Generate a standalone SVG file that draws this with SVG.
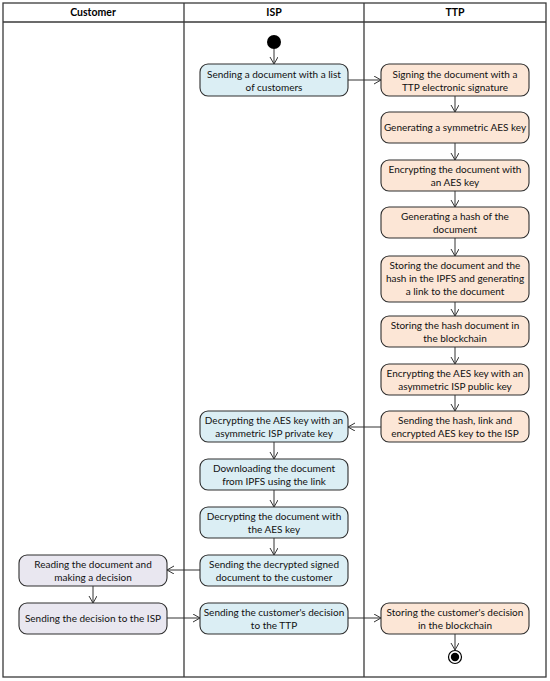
<svg xmlns="http://www.w3.org/2000/svg" width="550" height="681" viewBox="0 0 550 681">
<style>
.frame{fill:none;stroke:#3a3a3a;stroke-width:1.3}
.hdr{font-family:Lato,"Liberation Sans",sans-serif;font-size:10.5px;font-weight:bold;fill:#000;text-anchor:middle}
.n rect{stroke:#2e2e2e;stroke-width:1.1}
.n text{font-family:Lato,"Liberation Sans",sans-serif;font-size:10px;fill:#111;text-anchor:middle}
.isp rect{fill:#dbeef4}
.ttp rect{fill:#fce6d6}
.cus rect{fill:#e9e7f0}
.c line{stroke:#333;stroke-width:1;marker-end:url(#ah)}
</style>
<defs>
<marker id="ah" markerUnits="userSpaceOnUse" markerWidth="10" markerHeight="10" refX="7" refY="4" orient="auto">
<path d="M0,0 L7,4 L0,8" fill="none" stroke="#333" stroke-width="1"/>
</marker>
</defs>
<rect x="0" y="0" width="550" height="681" fill="#fff"/>
<g id="lanes">
<rect class="frame" x="3" y="3" width="543" height="674"/>
<line class="frame" x1="3" y1="22" x2="546" y2="22"/>
<line class="frame" x1="184" y1="3" x2="184" y2="677"/>
<line class="frame" x1="364" y1="3" x2="364" y2="677"/>
<text class="hdr" x="93" y="16">Customer</text>
<text class="hdr" x="274" y="16">ISP</text>
<text class="hdr" x="455" y="16">TTP</text>
</g>
<g id="start"><circle cx="274" cy="42" r="7" fill="#000"/></g>
<g id="isp1" class="n isp"><rect x="200" y="64" width="148" height="32" rx="8"/><text x="274" y="77.5">Sending a document with a list</text><text x="274" y="90.5">of customers</text></g>
<g id="ttp1" class="n ttp"><rect x="381" y="64" width="148" height="32" rx="8"/><text x="455" y="77.5">Signing the document with a</text><text x="455" y="90.5">TTP electronic signature</text></g>
<g id="ttp2" class="n ttp"><rect x="381" y="112" width="148" height="31" rx="8"/><text x="455" y="131">Generating a symmetric AES key</text></g>
<g id="ttp3" class="n ttp"><rect x="381" y="160" width="148" height="31" rx="8"/><text x="455" y="173">Encrypting the document with</text><text x="455" y="186">an AES key</text></g>
<g id="ttp4" class="n ttp"><rect x="381" y="207" width="148" height="31" rx="8"/><text x="455" y="220">Generating a hash of the</text><text x="455" y="233">document</text></g>
<g id="ttp5" class="n ttp"><rect x="381" y="256" width="148" height="46" rx="8"/><text x="455" y="269">Storing the document and the</text><text x="455" y="282">hash in the IPFS and generating</text><text x="455" y="295">a link to the document</text></g>
<g id="ttp6" class="n ttp"><rect x="381" y="316" width="148" height="31" rx="8"/><text x="455" y="329">Storing the hash document in</text><text x="455" y="342">the blockchain</text></g>
<g id="ttp7" class="n ttp"><rect x="381" y="364" width="148" height="31" rx="8"/><text x="455" y="377">Encrypting the AES key with an</text><text x="455" y="390">asymmetric ISP public key</text></g>
<g id="ttp8" class="n ttp"><rect x="381" y="411" width="148" height="31" rx="8"/><text x="455" y="424">Sending the hash, link and</text><text x="455" y="437">encrypted AES key to the ISP</text></g>
<g id="isp2" class="n isp"><rect x="200" y="411" width="148" height="31" rx="8"/><text x="274" y="424">Decrypting the AES key with an</text><text x="274" y="437">asymmetric ISP private key</text></g>
<g id="isp3" class="n isp"><rect x="200" y="459" width="148" height="31" rx="8"/><text x="274" y="472">Downloading the document</text><text x="274" y="485">from IPFS using the link</text></g>
<g id="isp4" class="n isp"><rect x="200" y="507" width="148" height="31" rx="8"/><text x="274" y="520">Decrypting the document with</text><text x="274" y="533">the AES key</text></g>
<g id="isp5" class="n isp"><rect x="200" y="555" width="148" height="31" rx="8"/><text x="274" y="568">Sending the decrypted signed</text><text x="274" y="581">document to the customer</text></g>
<g id="cus1" class="n cus"><rect x="19" y="555" width="148" height="31" rx="8"/><text x="93" y="568">Reading the document and</text><text x="93" y="581">making a decision</text></g>
<g id="cus2" class="n cus"><rect x="19" y="603" width="148" height="31" rx="8"/><text x="93" y="622">Sending the decision to the ISP</text></g>
<g id="isp6" class="n isp"><rect x="200" y="603" width="148" height="31" rx="8"/><text x="274" y="616">Sending the customer's decision</text><text x="274" y="629">to the TTP</text></g>
<g id="ttp9" class="n ttp"><rect x="381" y="603" width="148" height="31" rx="8"/><text x="455" y="616">Storing the customer's decision</text><text x="455" y="629">in the blockchain</text></g>
<g id="end"><circle cx="455" cy="657" r="6.5" fill="#fff" stroke="#000" stroke-width="1.2"/><circle cx="455" cy="657" r="4.2" fill="#000"/></g>
<g id="connectors" class="c">
<line x1="274" y1="49" x2="274" y2="64"/>
<line x1="348" y1="80" x2="381" y2="80"/>
<line x1="455" y1="96" x2="455" y2="112"/>
<line x1="455" y1="143" x2="455" y2="160"/>
<line x1="455" y1="191" x2="455" y2="207"/>
<line x1="455" y1="238" x2="455" y2="256"/>
<line x1="455" y1="302" x2="455" y2="316"/>
<line x1="455" y1="347" x2="455" y2="364"/>
<line x1="455" y1="395" x2="455" y2="411"/>
<line x1="381" y1="427" x2="348" y2="427"/>
<line x1="274" y1="442" x2="274" y2="459"/>
<line x1="274" y1="490" x2="274" y2="507"/>
<line x1="274" y1="538" x2="274" y2="555"/>
<line x1="200" y1="570" x2="167" y2="570"/>
<line x1="93" y1="586" x2="93" y2="603"/>
<line x1="167" y1="618" x2="200" y2="618"/>
<line x1="348" y1="618" x2="381" y2="618"/>
<line x1="455" y1="634" x2="455" y2="650"/>
</g>
</svg>
